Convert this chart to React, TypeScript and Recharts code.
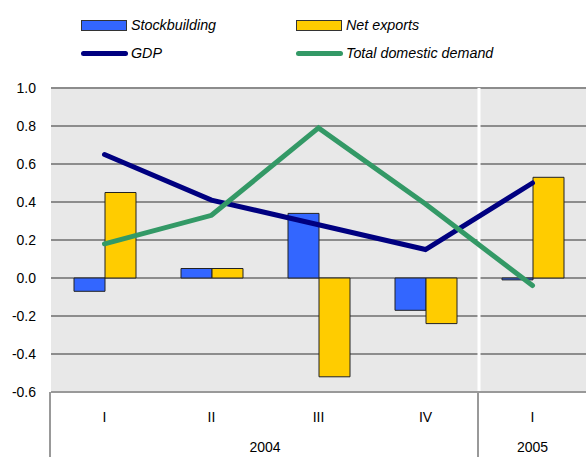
import React from "react";
import { ComposedChart, Bar, Line, XAxis, YAxis, CartesianGrid, ReferenceLine } from "recharts";

const quarters = ["I", "II", "III", "IV", "I"];
const years = ["2004", "2004", "2004", "2004", "2005"];
const stockbuilding = [-0.07, 0.05, 0.34, -0.17, -0.01];
const netExports = [0.45, 0.05, -0.52, -0.24, 0.53];
const gdp = [0.65, 0.41, 0.28, 0.15, 0.5];
const totalDomesticDemand = [0.18, 0.33, 0.79, 0.39, -0.04];
const yTicks = [-0.6, -0.4, -0.2, 0, 0.2, 0.4, 0.6, 0.8, 1.0];

const data = quarters.map((q, i) => ({
  idx: i,
  quarter: q,
  year: years[i],
  stockbuilding: stockbuilding[i],
  netExports: netExports[i],
  gdp: gdp[i],
  tdd: totalDomesticDemand[i],
}));

// year groups: start index + count
const yearGroups: { label: string; start: number; count: number }[] = [];
years.forEach((y, i) => {
  const last = yearGroups[yearGroups.length - 1];
  if (last && last.label === y) last.count++;
  else yearGroups.push({ label: y, start: i, count: 1 });
});

const FONT = "'Liberation Sans', Arial, sans-serif";
const BLUE = "#3366ff";
const YELLOW = "#ffcc00";
const NAVY = "#000080";
const GREEN = "#339966";
const AXIS_GRAY = "#999999";

const QUARTER_AXIS_H = 30;
const YEAR_AXIS_H = 35;

// draws a separator at the start of each year group and the year centred under the group
const YearTick = (props: any) => {
  const { x, y, payload } = props;
  const g = yearGroups.find((gr) => gr.start === payload.value);
  if (!g) return null;
  const half = payload.offset || 0;
  const left = x - half;
  return (
    <g>
      <line x1={left - 1} x2={left - 1} y1={y - QUARTER_AXIS_H} y2={y + YEAR_AXIS_H} stroke={AXIS_GRAY} strokeWidth={2} />
      <text x={left + g.count * half} y={y + 30} textAnchor="middle" fontFamily={FONT} fontSize={14} fill="#000">
        {g.label}
      </text>
    </g>
  );
};

const legendItems = [
  { name: "Stockbuilding", color: BLUE, kind: "bar" },
  { name: "Net exports", color: YELLOW, kind: "bar" },
  { name: "GDP", color: NAVY, kind: "line" },
  { name: "Total domestic demand", color: GREEN, kind: "line" },
];

const LegendBox = () => (
  <div style={{ position: "absolute", left: 0, top: 0, width: 586, height: 70, fontFamily: FONT, fontSize: 14, fontStyle: "italic" }}>
    {legendItems.map((it, i) => (
      <div
        key={it.name}
        style={{
          position: "absolute",
          left: i % 2 === 0 ? 81 : 296,
          top: i < 2 ? 16 : 44,
          height: 18,
          display: "flex",
          alignItems: "center",
          whiteSpace: "nowrap",
        }}
      >
        {it.kind === "bar" ? (
          <div style={{ width: 44, height: 9, background: it.color, border: "1px solid #333", marginRight: 4 }} />
        ) : (
          <div style={{ width: 47, height: 5, background: it.color, borderRadius: 3, marginRight: 3 }} />
        )}
        <span style={{ fontSize: 14.3 }}>{it.name}</span>
      </div>
    ))}
  </div>
);

export default function App() {
  return (
    <div style={{ position: "absolute", left: 0, top: 0, width: 586, height: 457, background: "#fff" }}>
      <LegendBox />
      <ComposedChart
        width={586}
        height={457}
        data={data}
        margin={{ top: 88, right: 0, bottom: 0, left: 0 }}
        barGap={0}
      >
        <CartesianGrid vertical={false} fill="#e8e8e8" stroke="#8c8c8c" strokeWidth={2} />
        <YAxis
          domain={[-0.6, 1.0]}
          ticks={yTicks}
          width={51}
          axisLine={false}
          tickLine={false}
          tickSize={0}
          tickMargin={15}
          interval={0}
          tickFormatter={(v: number) => v.toFixed(1)}
          tick={{ fontFamily: FONT, fontSize: 14, fill: "#000" }}
        />
        <XAxis
          dataKey="quarter"
          xAxisId={0}
          height={QUARTER_AXIS_H}
          axisLine={{ stroke: AXIS_GRAY, strokeWidth: 2 }}
          tickLine={false}
          tickSize={0}
          tickMargin={20}
          interval={0}
          allowDuplicatedCategory
          tick={{ fontFamily: FONT, fontSize: 14, fill: "#000" }}
        />
        <XAxis
          xAxisId="year"
          dataKey="idx"
          type="category"
          interval={0}
          height={YEAR_AXIS_H}
          axisLine={false}
          tickLine={false}
          tickSize={0}
          tickMargin={0}
          tick={<YearTick />}
        />
        {yearGroups.slice(1).map((g) => (
          <ReferenceLine key={g.label} xAxisId="year" x={g.start} position="start" stroke="#ffffff" strokeWidth={3} />
        ))}
        <Bar dataKey="stockbuilding" fill={BLUE} stroke="#222" strokeWidth={1} barSize={31} isAnimationActive={false} />
        <Bar dataKey="netExports" fill={YELLOW} stroke="#222" strokeWidth={1} barSize={31} isAnimationActive={false} />
        <Line dataKey="gdp" stroke={NAVY} strokeWidth={5} dot={false} strokeLinecap="round" isAnimationActive={false} />
        <Line dataKey="tdd" stroke={GREEN} strokeWidth={5} dot={false} strokeLinecap="round" isAnimationActive={false} />
      </ComposedChart>
    </div>
  );
}
